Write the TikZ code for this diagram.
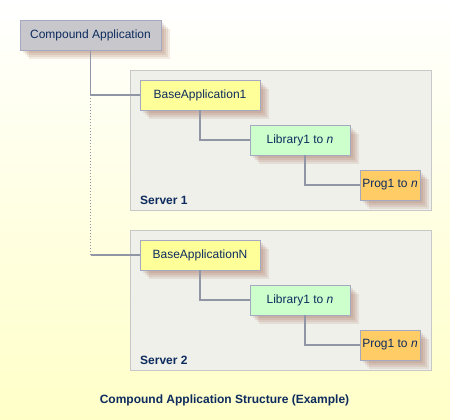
\documentclass[tikz,border=0pt]{standalone}
\usepackage{fontspec}
\setmainfont{Liberation Sans}
\usetikzlibrary{shadows}

\definecolor{textblue}{HTML}{0D2B5E}
\definecolor{boxline}{HTML}{A4A8C0}
\definecolor{linkgray}{HTML}{9096A6}
\definecolor{appgray}{HTML}{C8C8CC}
\definecolor{baseyellow}{HTML}{FFFF99}
\definecolor{libgreen}{HTML}{CCFFCC}
\definecolor{progorange}{HTML}{FFCC66}
\definecolor{serverfill}{HTML}{F0F0EA}
\definecolor{serverline}{HTML}{C8C8C8}
\definecolor{bgyellow}{HTML}{FFFFC8}
\definecolor{shadowbrown}{HTML}{8A4A30}

\begin{document}
\begin{tikzpicture}[x=1pt,y=-1pt,
  soft shadow/.style={general shadow={fill=shadowbrown, fill opacity=.11,
      shadow xshift=#1, shadow yshift=-#1}},
  box/.style={draw=boxline, line width=0.8pt, minimum height=30pt, inner sep=0pt,
    text=textblue, font=\fontsize{12}{14}\selectfont,
    soft shadow=9pt, soft shadow=7pt, soft shadow=5pt, soft shadow=3pt},
  server/.style={draw=serverline, line width=0.8pt, fill=serverfill, inner sep=0pt},
  srvlabel/.style={anchor=west, inner sep=0pt, text=textblue, font=\bfseries\fontsize{12}{14}\selectfont},
  link/.style={draw=linkgray, line width=1.4pt}]

% background
\useasboundingbox (0,0) rectangle (450,420);
\shade[shading angle=30, top color=white, bottom color=bgyellow] (0,0) rectangle (450,420);

% servers
\node[server, minimum width=301pt, minimum height=140pt] (srv1) at (280.5,140) {};
\node[srvlabel] (srv1lbl) at (140,200) {Server 1};
\node[server, minimum width=301pt, minimum height=140pt] (srv2) at (280.5,300) {};
\node[srvlabel] (srv2lbl) at (140,360) {Server 2};

% boxes
\node[box, fill=appgray, minimum width=141pt] (comp) at (90.5,35.5) {Compound Application};
\node[box, fill=baseyellow, minimum width=120pt] (base1) at (200,95) {BaseApplication1};
\node[box, fill=libgreen, minimum width=100pt] (lib1) at (300,140) {Library1 to \textit{n}};
\node[box, fill=progorange, minimum width=60pt] (prog1) at (390,185) {Prog1 to \textit{n}};
\node[box, fill=baseyellow, minimum width=120pt] (base2) at (200,255) {BaseApplicationN};
\node[box, fill=libgreen, minimum width=100pt] (lib2) at (300,300) {Library1 to \textit{n}};
\node[box, fill=progorange, minimum width=60pt] (prog2) at (390,345) {Prog1 to \textit{n}};

% connectors
\coordinate (split1) at (comp.south |- base1.west);
\coordinate (splitN) at (comp.south |- base2.west);
\draw[link] (comp) |- (base1);
\draw[link, line width=1pt, dotted] (split1) -- (splitN);
\draw[link] (splitN) -- (base2);
\draw[link] (base1) |- (lib1);
\draw[link] ([xshift=5pt]lib1.south) |- (prog1);
\draw[link] (base2) |- (lib2);
\draw[link] ([xshift=5pt]lib2.south) |- (prog2);

% caption
\node[text=textblue, font=\bfseries\fontsize{12}{14}\selectfont] (title) at (224.5,400)
  {Compound Application Structure (Example)};
\end{tikzpicture}
\end{document}
